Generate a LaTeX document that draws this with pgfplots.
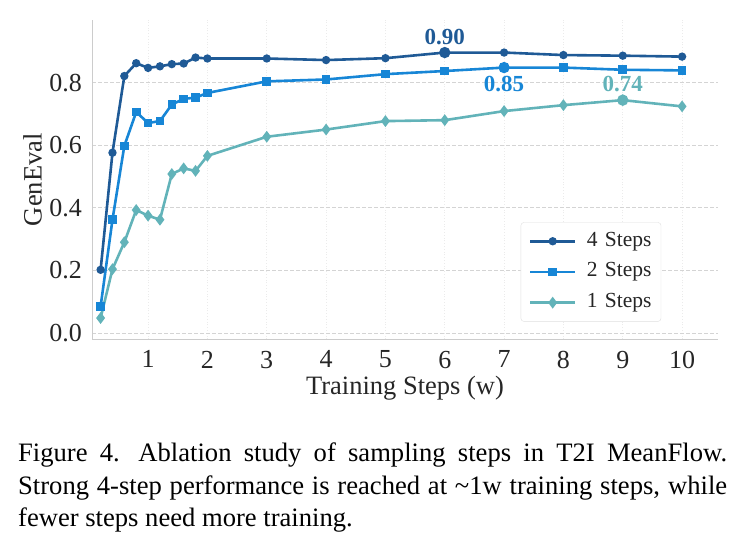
\documentclass[border=0pt]{standalone}
\usepackage{fontspec}
\setmainfont{Liberation Serif}
\usepackage{pgfplots}
\pgfplotsset{compat=1.18}
\definecolor{cfour}{HTML}{1F5A96}
\definecolor{ctwo}{HTML}{1786D6}
\definecolor{cone}{HTML}{62B3B9}
\definecolor{gridc}{HTML}{D4D4D4}
\definecolor{vgridc}{HTML}{EBEBEB}
\definecolor{spine}{HTML}{CCCCCC}
\begin{document}
\begin{tikzpicture}
\path[use as bounding box] (0pt,0pt) rectangle (745pt,549pt);
\begin{axis}[
  at={(92.3pt,209.7pt)}, anchor=south west,
  width=625.4pt, height=319.3pt, scale only axis,
  xmin=0.06, xmax=10.6, ymin=-0.02, ymax=1.0,
  axis lines=left,
  axis line style={-, draw=spine, line width=0.9pt},
  xtick={1,2,3,4,5,6,7,8,9,10},
  ytick={0,0.2,0.4,0.6,0.8},
  major tick length=0pt,
  /pgf/number format/assume math mode=true,
  yticklabel style={xshift=-7pt, /pgf/number format/fixed, /pgf/number format/fixed zerofill, /pgf/number format/precision=1},
  ticklabel style={font=\fontsize{26}{30}\selectfont, text=black!85},
  xticklabel style={yshift=-8pt},
  xmajorgrids, ymajorgrids,
  x grid style={draw=vgridc, line width=0.8pt, dotted},
  y grid style={draw=gridc, line width=0.8pt, dash pattern=on 4pt off 2pt},
  xlabel={Training Steps (w)},
  ylabel={GenEval},
  label style={font=\fontsize{26.5}{30}\selectfont, text=black!85},
  xlabel style={at={(rel axis cs:0.5,-0.172)}, anchor=base},
  ylabel style={at={(rel axis cs:-0.0956,0.5)}, anchor=center},
  legend style={at={(rel axis cs:0.685,0.3664)}, anchor=north west,
    font=\fontsize{21.5}{24}\selectfont, draw=gray!25, rounded corners=3pt,
    row sep=12.2pt, inner xsep=8pt, inner ysep=9.5pt, text=black!85,
    nodes={inner sep=0pt, text height=14pt, text depth=4.5pt, text width=66pt, font=\fontsize{21.5}{24}\selectfont},
    /tikz/every odd column/.append style={column sep=10.5pt}},
  legend cell align=left,
  legend image code/.code={\draw[mark repeat=2,mark phase=2] plot coordinates {(0pt,0pt) (22.5pt,0pt) (45pt,0pt)};},
  every axis plot/.append style={line width=2.6pt},
]
\addplot[cfour, mark=*, mark size=2.8pt, mark options={solid, fill=cfour}] coordinates {
(0.2,0.202) (0.4,0.576) (0.6,0.821) (0.8,0.862) (1.0,0.847) (1.2,0.852) (1.4,0.859) (1.6,0.861) (1.8,0.880) (2.0,0.877)
(3,0.877) (4,0.872) (5,0.878) (6,0.896) (7,0.896) (8,0.888) (9,0.886) (10,0.883)};
\addlegendentry{4 Steps}
\addplot[ctwo, mark=square*, mark size=3pt, mark options={solid, fill=ctwo}] coordinates {
(0.2,0.085) (0.4,0.362) (0.6,0.598) (0.8,0.706) (1.0,0.671) (1.2,0.677) (1.4,0.730) (1.6,0.748) (1.8,0.752) (2.0,0.767)
(3,0.804) (4,0.810) (5,0.827) (6,0.837) (7,0.848) (8,0.848) (9,0.841) (10,0.839)};
\addlegendentry{2 Steps}
\addplot[cone, mark=diamond*, mark size=3.8pt, mark options={solid, fill=cone}] coordinates {
(0.2,0.048) (0.4,0.204) (0.6,0.290) (0.8,0.393) (1.0,0.375) (1.2,0.362) (1.4,0.508) (1.6,0.526) (1.8,0.518) (2.0,0.566)
(3,0.627) (4,0.650) (5,0.677) (6,0.680) (7,0.709) (8,0.728) (9,0.744) (10,0.724)};
\addlegendentry{1 Steps}
\addplot[cfour, only marks, mark=*, mark size=4.3pt, forget plot] coordinates {(6,0.896)};
\addplot[ctwo, only marks, mark=*, mark size=4.3pt, forget plot] coordinates {(7,0.848)};
\addplot[cone, only marks, mark=*, mark size=4.3pt, forget plot] coordinates {(9,0.744)};
\node[anchor=base, yshift=8.3pt, text=cfour, font=\fontsize{23}{26}\selectfont\bfseries] at (axis cs:6,0.896) {0.90};
\node[anchor=base, yshift=-23.7pt, text=ctwo, font=\fontsize{23}{26}\selectfont\bfseries] at (axis cs:7,0.848) {0.85};
\node[anchor=base, yshift=8.3pt, text=cone, font=\fontsize{23}{26}\selectfont\bfseries] at (axis cs:9,0.744) {0.74};
\end{axis}
\node[anchor=north west, inner sep=0pt, text width=709pt, align=justify,
  font=\fontsize{26.6}{32.5}\selectfont] at (18pt,106.4pt)
  {Figure 4.\hspace{0.7em}Ablation study of sampling steps in T2I MeanFlow.\linebreak Strong 4-step performance is reached at \textasciitilde1w training steps, while\linebreak fewer steps need more training.};
\end{tikzpicture}
\end{document}
